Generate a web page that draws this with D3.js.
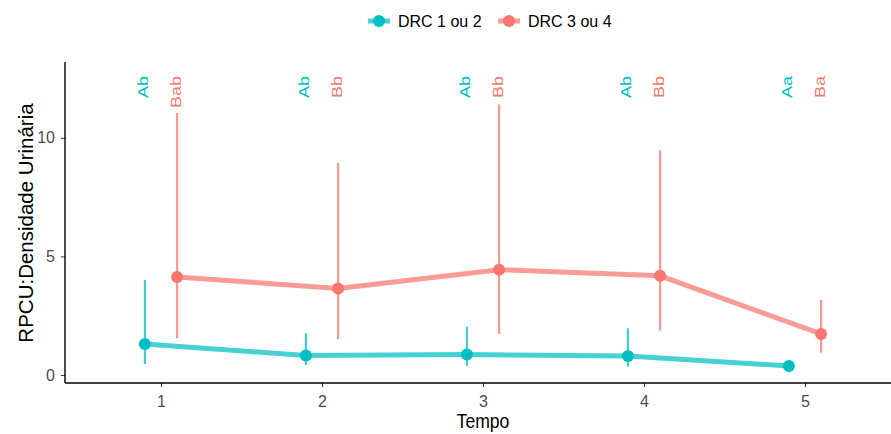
<!DOCTYPE html>
<html>
<head>
<meta charset="utf-8">
<script src="https://cdn.jsdelivr.net/npm/d3@7"></script>
<style>
  body { margin: 0; background: #fff; }
  svg { font-family: Arial, "Liberation Sans", sans-serif; }
</style>
</head>
<body>
<svg id="chart" width="891" height="434"></svg>
<script>
// values
const tempos = [1, 2, 3, 4, 5];
const groups = ['DRC 1 ou 2', 'DRC 3 ou 4'];
const colors = ['#00BFC4', '#F8766D'];

const meanG1 = [1.31, 0.82, 0.86, 0.80, 0.38];
const lowG1 = [0.46, 0.42, 0.38, 0.35, 0.30];
const highG1 = [4.01, 1.76, 2.04, 1.97, 0.46];

const meanG2 = [4.13, 3.65, 4.44, 4.18, 1.73];
const lowG2 = [1.55, 1.51, 1.73, 1.87, 0.94];
const highG2 = [11.05, 8.94, 11.41, 9.48, 3.17];

const lettersG1 = ['Ab', 'Ab', 'Ab', 'Ab', 'Aa'];
const lettersG2 = ['Bab', 'Bb', 'Bb', 'Bb', 'Ba'];

const yTicks = [0, 5, 10];

const series = [
  { name: groups[0], color: colors[0], mean: meanG1, low: lowG1, high: highG1, letters: lettersG1, dodge: -0.1 },
  { name: groups[1], color: colors[1], mean: meanG2, low: lowG2, high: highG2, letters: lettersG2, dodge: 0.1 }
];

const svg = d3.select('#chart');
const margin = { top: 62, right: 0, bottom: 51, left: 65 };
const width = 891;
const height = 434;

const x = d3.scaleLinear().domain([0.4, 5.6]).range([64.4, 901.6]);
const y = d3.scaleLinear().domain([-0.34, 13.2]).range([height - margin.bottom, margin.top]);

// axes
const xAxis = d3.axisBottom(x).tickValues(tempos).tickFormat(d3.format('d')).tickSizeOuter(0).tickSize(4);
const yAxis = d3.axisLeft(y).tickValues(yTicks).tickSizeOuter(0).tickSize(4).tickPadding(6);

const gx = svg.append('g')
  .attr('transform', `translate(0, ${height - margin.bottom})`)
  .call(xAxis);
const gy = svg.append('g')
  .attr('transform', `translate(${margin.left}, 0)`)
  .call(yAxis);

[gx, gy].forEach((g) => {
  g.select('.domain').remove();
  g.selectAll('.tick line').attr('stroke', '#333').attr('stroke-width', 1);
  g.selectAll('.tick text').attr('fill', '#4D4D4D').attr('font-size', 16).attr('font-family', 'Arial, "Liberation Sans", sans-serif');
});
gx.selectAll('.tick text').attr('dy', '1.06em');

// axis lines
svg.append('line')
  .attr('x1', margin.left).attr('x2', width)
  .attr('y1', height - margin.bottom).attr('y2', height - margin.bottom)
  .attr('stroke', '#000').attr('stroke-width', 1.4);
svg.append('line')
  .attr('x1', margin.left).attr('x2', margin.left)
  .attr('y1', margin.top).attr('y2', height - margin.bottom)
  .attr('stroke', '#000').attr('stroke-width', 1.4);

// error bars
series.forEach((s) => {
  svg.append('g')
    .selectAll('line')
    .data(tempos)
    .enter()
    .append('line')
    .attr('x1', (d) => x(d + s.dodge))
    .attr('x2', (d) => x(d + s.dodge))
    .attr('y1', (d, i) => y(s.low[i]))
    .attr('y2', (d, i) => y(s.high[i]))
    .attr('stroke', s.color)
    .attr('stroke-opacity', 0.75)
    .attr('stroke-width', 2.2);
});

// lines
const line = d3.line();
series.forEach((s) => {
  svg.append('path')
    .datum(tempos)
    .attr('d', line.x((d) => x(d + s.dodge)).y((d, i) => y(s.mean[i])))
    .attr('fill', 'none')
    .attr('stroke', s.color)
    .attr('stroke-opacity', 0.72)
    .attr('stroke-width', 5);
});

// points
series.forEach((s) => {
  svg.append('g')
    .selectAll('circle')
    .data(tempos)
    .enter()
    .append('circle')
    .attr('cx', (d) => x(d + s.dodge))
    .attr('cy', (d, i) => y(s.mean[i]))
    .attr('r', 6)
    .attr('fill', s.color);
});

// letters (right aligned at the top, rotated)
series.forEach((s) => {
  svg.append('g')
    .selectAll('text')
    .data(tempos)
    .enter()
    .append('text')
    .attr('transform', (d) => `translate(${x(d + s.dodge) + 3.5}, ${y(12.61)}) rotate(-90) scale(1, 0.8)`)
    .attr('text-anchor', 'end')
    .attr('font-size', 18)
    .attr('fill', s.color)
    .text((d, i) => s.letters[i]);
});

// axis titles
svg.append('text')
  .attr('transform', `translate(${x(3)}, 428) scale(0.88, 1)`)
  .attr('text-anchor', 'middle')
  .attr('font-size', 20)
  .attr('fill', '#000')
  .text('Tempo');

svg.append('text')
  .attr('transform', 'translate(33, 223) rotate(-90)')
  .attr('text-anchor', 'middle')
  .attr('font-size', 20.5)
  .attr('fill', '#000')
  .text('RPCU:Densidade Urinária');

// legend
const legendX = [379, 509];
series.forEach((s, i) => {
  const g = svg.append('g').attr('transform', `translate(${legendX[i]}, 21)`);
  g.append('line')
    .attr('x1', -11).attr('x2', 11)
    .attr('stroke', s.color).attr('stroke-opacity', 0.72).attr('stroke-width', 5);
  g.append('circle').attr('cx', 0).attr('cy', 0).attr('r', 6).attr('fill', s.color);
  g.append('text')
    .attr('x', 19)
    .attr('y', 6)
    .attr('font-size', 16)
    .attr('fill', '#000')
    .text(s.name);
});
</script>
</body>
</html>
